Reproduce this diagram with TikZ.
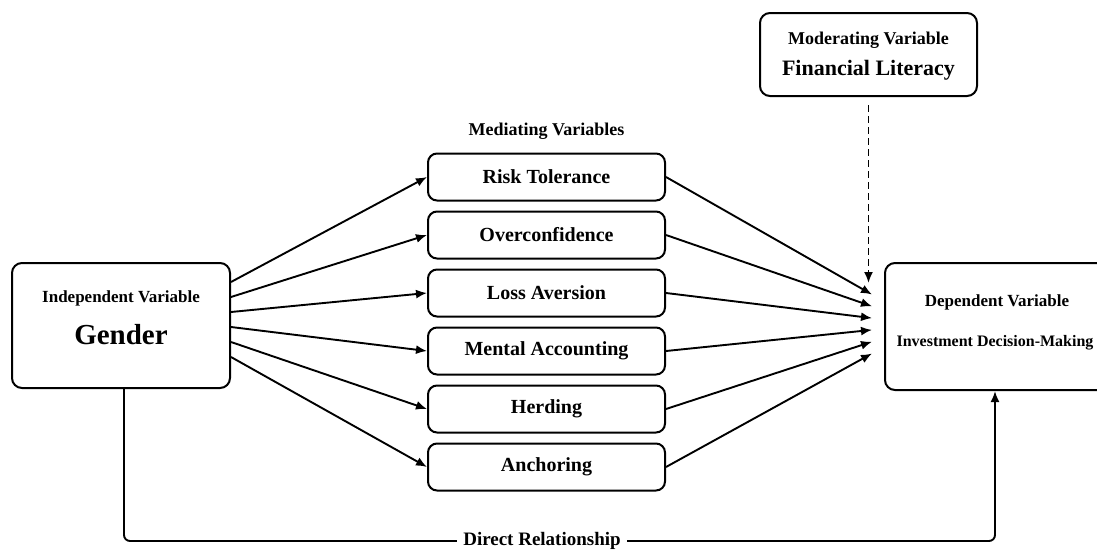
\documentclass[tikz,border=0pt]{standalone}
\usepackage{fontspec}
\setmainfont{Liberation Serif}
\usetikzlibrary{positioning, arrows.meta}
\tikzset{
    varbox/.style = {
        rectangle, draw, rounded corners=9pt, line width=2pt,
        minimum width=237pt, minimum height=47pt,
        font=\bfseries\fontsize{20}{24}\selectfont
    },
    bigbox/.style = {
        rectangle, draw, rounded corners=10pt, line width=2pt
    },
    caption/.style = {
        font=\bfseries\fontsize{17}{20}\selectfont
    },
    arrow/.style = {
        -{Latex[length=11pt,width=9pt]}, line width=1.9pt
    }
}

\begin{document}
\begin{tikzpicture}[x=1pt, y=1pt, node distance=58pt]
\useasboundingbox (0,0) rectangle (1097,-554);

% independent variable
\node (indep) [bigbox, minimum width=218pt, minimum height=125pt] at (121,-325.5) {};
\node (indeptitle) [caption] at (121,-298) {Independent Variable};
\node (gender) [font=\bfseries\fontsize{29}{32}\selectfont] at (121,-335) {Gender};

% mediating variables
\node (risk) [varbox] at (546.5,-177) {Risk Tolerance};
\node (over) [varbox, below of=risk] {Overconfidence};
\node (loss) [varbox, below of=over] {Loss Aversion};
\node (mental) [varbox, below of=loss] {Mental Accounting};
\node (herd) [varbox, below of=mental] {Herding};
\node (anchor) [varbox, below of=herd] {Anchoring};
\node (medtitle) [caption, font=\bfseries\fontsize{18}{20}\selectfont, above=9pt of risk] {Mediating Variables};

% moderating variable
\node (modbox) [bigbox, minimum width=217pt, minimum height=83pt] at (868.5,-54.5) {};
\node (modtitle) [caption, font=\bfseries\fontsize{18}{20}\selectfont] at (868.5,-40) {Moderating Variable};
\node (literacy) [font=\bfseries\fontsize{22}{26}\selectfont] at (868.5,-70) {Financial Literacy};

% dependent variable
\node (dep) [bigbox, minimum width=232pt, minimum height=127pt] at (1001,-326.5) {};
\node (deptitle) [caption] at (997,-302) {Dependent Variable};
\node (invest) [caption, font=\bfseries\fontsize{16}{20}\selectfont, inner xsep=0pt] at (995,-343) {Investment Decision-Making};

\coordinate (conv) at ([xshift=-12pt, yshift=2.5pt]dep.west);
\coordinate (modtip) at (868.5,-283);
\coordinate (dirturn) at ([xshift=-6pt]dep.south |- 0,-541);

% arrows through the mediators
\foreach \m [count=\i, evaluate=\i as \ys using (4-\i)*15-1.5,
             evaluate=\i as \ye using (3.5-\i)*11.8]
        in {risk,over,loss,mental,herd,anchor} {
    \draw [arrow] ([yshift=\ys pt]indep.east) -- (\m.west);
    \draw [arrow] (\m.east) -- ([yshift=\ye pt]conv);
}

% moderating effect
\draw [arrow, dash pattern=on 7pt off 4pt, shorten <=8pt] (modbox.south) -- (modtip);

% direct path
\draw [arrow, rounded corners=6pt] ([xshift=3pt]indep.south) |- (dirturn) -- ([xshift=-6pt]dep.south);
\node (direct) [font=\bfseries\fontsize{19}{22}\selectfont, fill=white, inner xsep=6pt] at (542,-541) {Direct Relationship};

\end{tikzpicture}
\end{document}
